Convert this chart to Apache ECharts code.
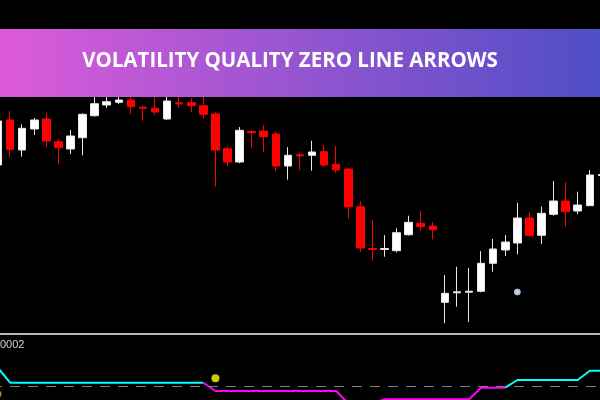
<!DOCTYPE html>
<html>
<head>
<meta charset="utf-8">
<script src="https://cdn.jsdelivr.net/npm/echarts@6/dist/echarts.min.js"></script>
<style>
html,body{margin:0;padding:0;background:#000;overflow:hidden;width:600px;height:400px;}
#wrap{position:relative;width:600px;height:400px;overflow:hidden;}
#chart{position:absolute;left:-8px;top:0;width:628px;height:400px;}
</style>
</head>
<body>
<div id="wrap"><div id="chart"></div></div>
<script>
// Candle values (price units)
const openVals  = [235,280,250,271,281,258.3,251,262.3,284.3,295,297.7,300,292.8,291.7,281,297.2,297.3,294.3,286,251.3,238,268.5,269,266,234,245.2,244.7,248.3,235.7,231,193.3,151.5,150.5,149.3,165.3,176.7,174,97.7,107.2,107.8,108.7,136.7,150,157,182,164.7,185.7,199,189,194.3,224.5];
const closeVals = [279,250.7,271.7,280,259,252.3,264,285.7,296.3,298.3,300,293.3,291.8,288,299,296.2,294.3,285.7,250,238,269.7,267.5,263.3,234,244.7,244.2,248,235,230,193.3,152,150.5,151.5,167.3,177.7,173.3,170.3,106.7,108.2,108.8,136.7,151,158,182,164.7,186.7,199,188.3,195,225,225.5];
const lowVals   = [233,242.3,243.3,265,253.3,236,246,244.7,283.3,292,296,286,279.3,285,280,292.3,287.7,281,213.3,233.3,236.7,252.3,247.7,229,220.3,230,229.3,232.7,227.3,181.3,148,139.3,143.3,147.7,164.3,169,160.7,76.7,93.3,78,107.7,128.3,144,145.7,162.7,156,184.3,173.3,186,194,222];
const highVals  = [282,289,275.7,282,287.3,261,270,286.7,305,305,305,305,294.3,305,305,305,302,305,287.7,254,273,270,275,268.7,253,247.3,259.3,255,254,232.3,199,180,165,171.7,184.3,189,177.7,125,133.3,132,149,161,165,197.3,188.3,193.3,219,217.7,208.3,230,227];
// Volatility quality oscillator values
const qualityVals = [18,3.3,3.3,3.3,3.3,3.3,3.3,3.3,3.3,3.3,3.3,3.3,3.3,3.3,3.3,3.3,3.3,3.3,-5,-5,-5,-5,-5,-5,-5,-5,-5,-5,-5,-17.5,-17.5,-17.5,-13.3,-13.3,-13.3,-13.3,-13.3,-13.3,-13.3,-13.3,-1.7,-1.7,-1.7,6,6,6,6,6,6,15.3,15.3,15.3];
// Signal markers [bar index, value]
const zeroCrossDots = [[18,7.7]];
const buyArrows = [[43,108]];
const edgeMarks = [[0,-8]];
const titleText = 'VOLATILITY QUALITY ZERO LINE ARROWS';
const levelLabel = '0002';

const N = 52;
const categories = [];
for (let i = 0; i < N; i++) categories.push(String(i + 1));

const candleData = openVals.map((o, i) => [o, closeVals[i], lowVals[i], highVals[i]]);

const upLine = qualityVals.map((v, i) => (v > 0 || (qualityVals[i + 1] !== undefined && qualityVals[i + 1] > 0)) ? v : null);
const dnLine = qualityVals.map((v, i) => (v < 0 || (qualityVals[i + 1] !== undefined && qualityVals[i + 1] < 0)) ? v : null);

const OX = 8; // container offset
const chart = echarts.init(document.getElementById('chart'), null, {renderer: 'canvas'});
const hiddenX = {type: 'category', data: categories, boundaryGap: true, show: false};
chart.setOption({
  backgroundColor: '#000000',
  animation: false,
  grid: [
    {left: 0, right: 0, top: 0, bottom: 67},
    {left: 0, right: 0, top: 335, bottom: 0}
  ],
  xAxis: [
    Object.assign({gridIndex: 0}, hiddenX),
    Object.assign({gridIndex: 1}, hiddenX)
  ],
  yAxis: [
    {gridIndex: 0, type: 'value', min: 67, max: 400, show: false, splitLine: {show: false}},
    {gridIndex: 1, type: 'value', min: -14, max: 51, show: false, splitLine: {show: false}}
  ],
  series: [
    {
      type: 'candlestick', xAxisIndex: 0, yAxisIndex: 0, data: candleData,
      barWidth: 8,
      itemStyle: {color: '#ffffff', color0: '#ff0000', borderColor: '#e6e6e6', borderColor0: '#ff0000', borderWidth: 1}
    },
    {
      type: 'scatter', xAxisIndex: 0, yAxisIndex: 0, data: buyArrows, symbolSize: 6,
      itemStyle: {color: '#ffffff', borderColor: '#9fd0ff', borderWidth: 1}
    },
    {
      type: 'line', xAxisIndex: 1, yAxisIndex: 1, data: upLine, symbol: 'none', connectNulls: false,
      lineStyle: {color: '#00ffff', width: 2},
      markLine: {
        silent: true, symbol: 'none', label: {show: false},
        lineStyle: {color: '#808080', type: [10, 8], width: 1},
        data: [{yAxis: 0}]
      }
    },
    {
      type: 'line', xAxisIndex: 1, yAxisIndex: 1, data: dnLine, symbol: 'none', connectNulls: false,
      lineStyle: {color: '#ff00ff', width: 2}
    },
    {
      type: 'scatter', xAxisIndex: 1, yAxisIndex: 1, data: zeroCrossDots, symbolSize: 8,
      itemStyle: {color: '#ffff00'}
    },
    {
      type: 'scatter', xAxisIndex: 1, yAxisIndex: 1, data: edgeMarks, symbolSize: 7,
      itemStyle: {color: '#ff9a1a'}
    }
  ],
  graphic: [
    {
      type: 'line', z: 50, silent: true,
      shape: {x1: OX, y1: 334, x2: OX + 600, y2: 334},
      style: {stroke: '#b4b4b4', lineWidth: 2}
    },
    {
      type: 'text', z: 50, x: OX, y: 339, silent: true,
      style: {text: levelLabel, fill: '#d4d4d4', font: '11px "Liberation Sans", Arial, sans-serif'}
    },
    {
      type: 'rect', z: 100, silent: true,
      shape: {x: OX, y: 29, width: 600, height: 68},
      style: {
        fill: new echarts.graphic.LinearGradient(0, 0, 1, 0, [
          {offset: 0, color: '#dd5bda'},
          {offset: 1, color: '#4e4ec6'}
        ])
      }
    },
    {
      type: 'text', z: 101, silent: true, x: OX + 290, y: 61,
      style: {
        text: titleText, fill: '#ffffff', align: 'center', verticalAlign: 'middle',
        font: 'bold 20.5px "Open Sans", "Noto Sans", sans-serif'
      }
    }
  ]
});
</script>
</body>
</html>
